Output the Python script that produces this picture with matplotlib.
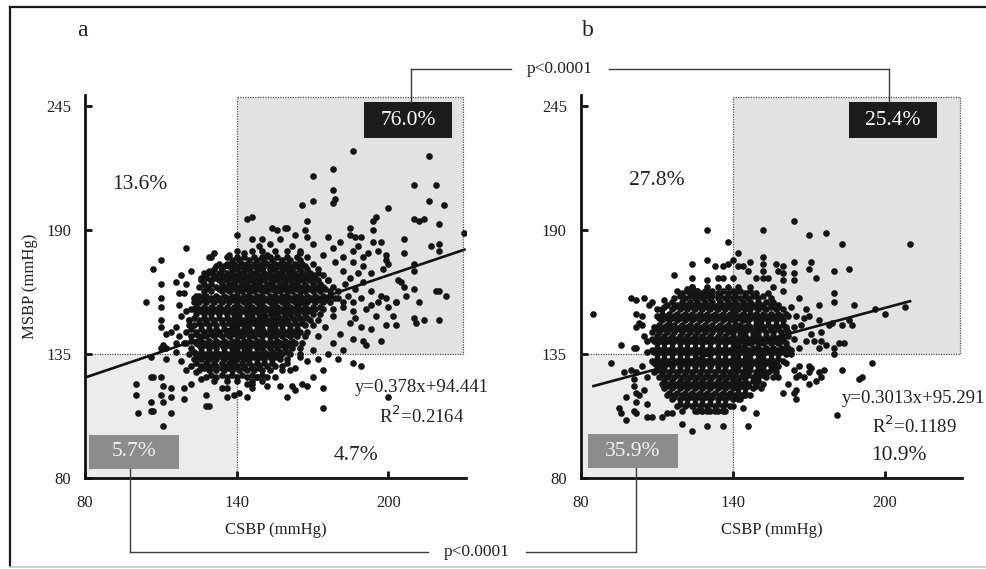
import numpy as np
import matplotlib.pyplot as plt
from matplotlib.patches import Rectangle
from matplotlib.lines import Line2D

plt.rcParams['font.family'] = ['Liberation Serif', 'DejaVu Serif']

# ---- data (CSBP on x, MSBP on y) ----
# dense middle of each cloud, one row per MSBP value: (MSBP, [CSBP, ...])
a_core_rows = [
    (181, [140, 146, 150, 155, 160, 165]),
    (178, [136, 140, 143, 147, 150, 153, 156, 160, 164, 168]),
    (177, [138, 141, 145, 148, 151, 154, 158, 161, 165]),
    (175, [133, 136, 139, 142, 144, 147, 150, 152, 155, 157, 160, 163, 166, 170]),
    (174, [135, 137, 141, 143, 146, 149, 151, 154, 156, 159, 161, 164, 167]),
    (173, [131, 134, 138, 140, 143, 145, 148, 150, 153, 155, 158, 160, 162, 165, 168, 172]),
    (171, [130, 133, 136, 138, 141, 143, 146, 148, 151, 153, 156, 158, 161, 163, 166, 169, 172]),
    (170, [128, 131, 134, 137, 140, 142, 145, 147, 150, 152, 155, 157, 160, 162, 165, 167, 170, 174]),
    (169, [128, 132, 135, 138, 140, 143, 145, 148, 150, 153, 155, 158, 160, 163, 165, 168, 171]),
    (168, [126, 130, 133, 136, 139, 141, 144, 146, 149, 151, 154, 156, 159, 161, 164, 166, 169, 172, 176]),
    (166, [127, 130, 134, 137, 139, 142, 144, 147, 149, 152, 154, 157, 159, 162, 164, 167, 170, 173]),
    (165, [125, 128, 132, 135, 138, 140, 143, 145, 148, 150, 153, 155, 158, 160, 163, 165, 168, 171, 174, 178]),
    (164, [129, 133, 136, 138, 141, 144, 146, 149, 151, 154, 156, 159, 161, 164, 166, 169, 172, 175]),
    (163, [127, 130, 134, 137, 140, 142, 145, 147, 150, 152, 155, 157, 160, 162, 165, 167, 170, 173, 177, 180]),
    (161, [125, 128, 132, 135, 138, 140, 143, 145, 148, 150, 153, 155, 158, 160, 163, 165, 168, 171, 174, 177]),
    (160, [123, 127, 130, 133, 136, 139, 141, 144, 146, 149, 151, 154, 156, 159, 161, 164, 166, 169, 172, 175, 179]),
    (159, [127, 130, 133, 136, 139, 142, 144, 147, 149, 152, 154, 157, 159, 162, 164, 167, 170, 173, 176]),
    (158, [125, 128, 131, 134, 137, 140, 143, 145, 148, 150, 153, 155, 158, 160, 163, 165, 168, 171, 174, 177, 182]),
    (156, [124, 127, 130, 133, 136, 139, 141, 144, 146, 149, 151, 154, 156, 159, 161, 164, 167, 170, 173]),
    (155, [122, 125, 128, 131, 134, 137, 140, 142, 145, 147, 150, 152, 155, 157, 160, 162, 165, 168, 171, 174, 178]),
    (154, [126, 129, 132, 135, 138, 140, 143, 145, 148, 150, 153, 155, 158, 160, 163, 166, 169]),
    (153, [124, 127, 130, 133, 136, 139, 141, 144, 146, 149, 151, 154, 156, 159, 161, 164, 167, 170, 173]),
    (151, [123, 127, 130, 133, 136, 139, 141, 144, 146, 149, 151, 154, 157, 159, 162, 165, 168]),
    (150, [121, 125, 128, 131, 134, 137, 140, 142, 145, 147, 150, 152, 155, 158, 160, 163, 166, 169, 172]),
    (149, [125, 128, 131, 134, 137, 139, 142, 144, 147, 149, 152, 154, 157, 160, 163, 166]),
    (148, [123, 126, 129, 132, 135, 138, 140, 143, 145, 148, 150, 153, 155, 158, 161, 164, 167, 170]),
    (146, [122, 126, 129, 132, 135, 138, 140, 143, 145, 148, 150, 153, 155, 158, 161, 164]),
    (145, [120, 124, 127, 130, 133, 136, 139, 141, 144, 146, 149, 151, 154, 156, 159, 162, 165, 168]),
    (144, [124, 127, 130, 133, 136, 138, 141, 143, 146, 149, 152, 154, 157, 160, 163]),
    (143, [122, 125, 128, 131, 134, 137, 140, 142, 145, 147, 150, 153, 155, 158, 161, 164, 167]),
    (141, [122, 126, 129, 132, 135, 138, 140, 143, 145, 148, 150, 153, 156, 159, 162]),
    (140, [120, 124, 127, 130, 133, 136, 139, 141, 144, 146, 149, 151, 154, 157, 160, 163, 166]),
    (139, [125, 128, 131, 134, 137, 139, 142, 144, 147, 149, 152, 155, 158, 161]),
    (138, [122, 126, 129, 132, 135, 138, 140, 143, 145, 148, 150, 153, 156, 159, 162, 165]),
    (136, [123, 126, 129, 132, 135, 138, 140, 143, 145, 148, 151, 154, 157, 160]),
    (135, [121, 124, 127, 130, 133, 136, 139, 141, 144, 146, 149, 152, 155, 158, 161, 165]),
    (134, [125, 128, 131, 134, 137, 139, 142, 144, 147, 150, 153, 156]),
    (133, [123, 126, 129, 132, 135, 138, 140, 143, 145, 148, 151, 154, 157, 160]),
    (131, [124, 128, 131, 134, 137, 139, 142, 145, 148, 151, 154]),
    (130, [122, 126, 129, 132, 135, 138, 140, 143, 146, 149, 152, 155, 158]),
    (129, [127, 130, 134, 137, 140, 143, 146, 149]),
    (128, [125, 129, 132, 135, 138, 141, 144, 147, 150, 153]),
    (126, [130, 134, 138, 142, 146, 150]),
    (125, [128, 132, 136, 140, 144, 148, 152]),
    (123, [131, 136, 140, 146, 150]),
]

# scattered points around the middle: (CSBP, MSBP)
a_outer = [
    (186, 225), (216, 223), (178, 217), (170, 214), (210, 210), (219, 210), (178, 208),
    (179, 204), (178, 202), (170, 203), (166, 201), (216, 203), (222, 201), (200, 200),
    (210, 195), (212, 194), (214, 195), (220, 193), (195, 196), (194, 194), (194, 190),
    (168, 194), (167, 190), (168, 187), (185, 191), (185, 188), (187, 187), (189, 187),
    (230, 189), (206, 186), (206, 180), (197, 185), (194, 185), (196, 181), (199, 179),
    (199, 177), (200, 175), (217, 183), (220, 184), (220, 181), (210, 175), (210, 172),
    (193, 171), (198, 173), (204, 168), (205, 167), (206, 165), (210, 164), (220, 163),
    (223, 161), (197, 161), (199, 160), (203, 158), (207, 161), (212, 158), (186, 158),
    (193, 157), (144, 195), (146, 196), (140, 188), (154, 191), (156, 190), (159, 191),
    (146, 186), (150, 186), (153, 184), (160, 191),
    (143, 180), (149, 183), (152, 179), (157, 186), (162, 183), (165, 180), (170, 184),
    (174, 179), (178, 182), (182, 178), (186, 181), (190, 178), (163, 188), (176, 187),
    (181, 185), (188, 183), (192, 180),
    (182, 172), (185, 169), (188, 171), (183, 166), (187, 164), (190, 167), (184, 161),
    (189, 160), (193, 163), (182, 156), (186, 154), (191, 155), (195, 152), (185, 149),
    (189, 147), (193, 146), (181, 144), (186, 142), (178, 140), (182, 137), (176, 135),
    (180, 133), (186, 176), (190, 174), (179, 176), (176, 168), (180, 160), (178, 152),
    (175, 147), (172, 143), (170, 137),
    (190, 141), (191, 139), (197, 141), (210, 151), (211, 149), (214, 150), (220, 150),
    (199, 148), (203, 148), (202, 152), (203, 158), (200, 156), (219, 163), (187, 151),
    (196, 158),
    (120, 182), (110, 177), (107, 173), (110, 166), (116, 167), (104, 158), (110, 160),
    (117, 162), (110, 156), (117, 157), (110, 150), (110, 147), (112, 144), (114, 145),
    (116, 147), (111, 139), (110, 138), (112, 138), (112, 133), (116, 140), (106, 134),
    (120, 154), (121, 150), (121, 148), (123, 155), (123, 158), (130, 178), (131, 180),
    (132, 174), (134, 173), (137, 179), (138, 175), (126, 169), (127, 171), (129, 172),
    (130, 168), (124, 161), (127, 161), (129, 178), (118, 170), (120, 166), (122, 172),
    (119, 162), (118, 152), (117, 143), (119, 140), (118, 132), (120, 128), (124, 127),
    (126, 124), (116, 136),
    (100, 122), (100, 117), (101, 109), (106, 114), (106, 110), (107, 110), (106, 125),
    (107, 125), (110, 125), (111, 121), (114, 120), (110, 117), (111, 114), (114, 116),
    (114, 109), (111, 103), (119, 120), (119, 115), (122, 122), (128, 117), (128, 112),
    (129, 112), (134, 120), (136, 120), (136, 116), (139, 117), (141, 118), (144, 116),
    (144, 122), (146, 120), (146, 122),
    (157, 121), (162, 121), (163, 119), (160, 116), (166, 122), (168, 121), (174, 120),
    (174, 111), (200, 116), (161, 128), (163, 129), (170, 125), (174, 128), (186, 131),
    (189, 130), (168, 132), (155, 125), (158, 128), (152, 121), (148, 125), (165, 134),
    (172, 133), (160, 131),
]

b_core_rows = [
    (165, [124, 130, 134, 138, 142, 147]),
    (163, [122, 126, 129, 132, 136, 140, 143, 147]),
    (162, [120, 124, 127, 131, 134, 138, 141, 145, 149, 154]),
    (161, [119, 123, 126, 129, 132, 135, 138, 141, 145, 148, 152]),
    (160, [117, 121, 125, 128, 131, 134, 137, 140, 143, 146, 150, 155]),
    (158, [116, 120, 123, 126, 129, 132, 135, 138, 141, 144, 147, 150, 153, 156]),
    (157, [114, 118, 122, 125, 128, 131, 134, 137, 140, 142, 145, 148, 151, 155, 158]),
    (156, [113, 117, 120, 124, 127, 130, 133, 136, 139, 141, 144, 146, 149, 152, 155, 158]),
    (155, [112, 116, 119, 122, 125, 128, 131, 134, 137, 140, 142, 145, 147, 150, 153, 157, 160]),
    (153, [112, 115, 118, 121, 124, 127, 130, 133, 136, 139, 141, 144, 147, 149, 152, 155, 158, 161]),
    (152, [110, 114, 117, 120, 123, 126, 129, 132, 135, 138, 140, 143, 145, 148, 150, 153, 156, 159, 162]),
    (151, [111, 113, 116, 119, 122, 125, 128, 131, 134, 137, 140, 143, 145, 147, 150, 152, 155, 158]),
    (150, [112, 115, 118, 121, 124, 127, 130, 133, 136, 139, 141, 144, 146, 149, 151, 154, 157, 160]),
    (148, [111, 114, 117, 120, 123, 126, 129, 132, 135, 138, 141, 143, 146, 149, 151, 154, 157, 160]),
    (147, [109, 113, 116, 119, 122, 125, 128, 131, 134, 137, 140, 142, 145, 147, 150, 152, 155, 158, 161, 164]),
    (146, [110, 112, 115, 118, 121, 124, 127, 130, 133, 136, 139, 141, 144, 146, 149, 152, 155, 158, 161]),
    (145, [111, 114, 117, 120, 123, 126, 129, 132, 135, 138, 140, 143, 145, 148, 150, 153, 156, 159, 162]),
    (143, [110, 113, 116, 119, 122, 125, 128, 131, 134, 137, 140, 143, 145, 148, 150, 153, 156, 159, 162]),
    (142, [108, 112, 115, 118, 121, 124, 127, 130, 133, 136, 139, 141, 144, 146, 149, 151, 154, 157, 160, 164]),
    (141, [109, 111, 114, 117, 120, 123, 126, 129, 132, 135, 138, 141, 143, 146, 148, 151, 153, 156, 159]),
    (140, [110, 113, 116, 119, 122, 125, 128, 131, 134, 137, 140, 142, 145, 147, 150, 152, 155, 158, 161]),
    (138, [110, 113, 116, 119, 122, 125, 128, 131, 134, 137, 140, 142, 145, 148, 150, 153, 156, 159, 162]),
    (137, [108, 112, 115, 118, 121, 124, 127, 130, 133, 136, 139, 141, 144, 146, 149, 151, 154, 157, 160, 163]),
    (136, [109, 111, 114, 117, 120, 123, 126, 129, 132, 135, 138, 141, 143, 146, 148, 151, 153, 156, 159]),
    (135, [110, 113, 116, 119, 122, 125, 128, 131, 134, 137, 140, 142, 145, 147, 150, 152, 155, 158, 161]),
    (133, [110, 113, 116, 119, 122, 125, 128, 131, 134, 137, 140, 142, 145, 147, 150, 152, 155, 158]),
    (132, [108, 112, 115, 118, 121, 124, 127, 130, 133, 136, 139, 141, 144, 146, 149, 151, 154, 157, 160]),
    (131, [109, 111, 114, 117, 120, 123, 126, 129, 132, 135, 138, 141, 143, 146, 148, 151, 153, 156]),
    (130, [110, 113, 116, 119, 122, 125, 128, 131, 134, 137, 140, 142, 145, 147, 150, 152, 155, 158]),
    (128, [110, 113, 116, 119, 122, 125, 128, 131, 134, 137, 140, 142, 145, 147, 150, 152, 155]),
    (127, [109, 112, 115, 118, 121, 124, 127, 130, 133, 136, 139, 141, 144, 146, 149, 151, 154, 157]),
    (126, [112, 115, 118, 121, 124, 127, 130, 133, 136, 139, 141, 144, 146, 149, 152]),
    (125, [111, 114, 117, 120, 123, 126, 129, 132, 135, 138, 140, 143, 145, 148, 150, 153, 156]),
    (123, [113, 116, 119, 122, 125, 128, 131, 134, 137, 140, 142, 145, 148, 150]),
    (122, [112, 115, 118, 121, 124, 127, 130, 133, 136, 139, 141, 144, 146, 149, 152]),
    (121, [114, 117, 120, 123, 126, 129, 132, 135, 138, 141, 143, 146, 149]),
    (120, [113, 116, 119, 122, 125, 128, 131, 134, 137, 140, 142, 145, 148, 151]),
    (118, [115, 118, 121, 124, 127, 130, 133, 136, 139, 142, 145]),
    (117, [114, 117, 120, 123, 126, 129, 132, 135, 138, 141, 144, 147]),
    (116, [117, 120, 123, 126, 129, 132, 135, 138, 141]),
    (115, [116, 119, 122, 125, 128, 131, 134, 137, 140, 143]),
    (113, [119, 122, 125, 128, 131, 134, 137]),
    (112, [118, 121, 124, 127, 130, 133, 136, 139]),
    (110, [120, 125, 128, 130, 133, 136]),
]

b_outer = [
    (130, 190), (138, 185), (152, 190), (164, 194), (170, 188), (177, 189), (183, 184),
    (210, 184), (130, 177), (124, 175), (117, 170), (124, 169), (130, 168), (134, 169),
    (136, 169), (133, 174), (136, 174), (138, 175), (140, 177), (142, 180), (142, 174),
    (144, 174), (147, 176), (146, 172), (152, 178), (152, 175), (152, 172), (152, 169),
    (157, 175), (160, 174), (160, 171), (160, 168), (158, 172), (164, 176), (164, 171),
    (164, 168), (171, 176), (170, 173), (173, 169), (180, 172), (186, 173), (154, 169),
    (149, 169), (118, 163), (122, 164), (124, 165), (126, 163), (140, 169),
    (180, 162), (180, 158), (188, 157), (174, 157), (169, 155), (170, 152), (168, 151),
    (174, 150), (178, 148), (183, 148), (186, 150), (187, 148), (196, 155), (200, 153),
    (208, 156), (179, 149), (175, 145), (171, 144), (169, 141), (174, 138), (177, 139),
    (180, 138), (182, 140), (184, 140), (180, 135), (183, 128), (195, 131), (191, 125),
    (190, 124), (176, 128), (175, 125), (171, 129), (170, 127), (165, 125), (164, 118),
    (160, 118), (181, 108), (157, 141), (161, 138), (163, 135), (166, 138), (172, 141),
    (175, 141), (157, 131), (157, 129), (161, 131), (166, 130), (164, 128), (166, 126),
    (168, 125), (170, 130), (174, 127), (173, 123), (170, 122), (158, 125), (162, 122),
    (165, 119), (165, 115), (167, 148), (165, 152), (163, 156), (166, 160), (160, 163),
    (156, 165),
    (85, 153), (100, 160), (102, 159), (105, 160), (107, 157), (102, 153), (104, 152),
    (103, 149), (104, 148), (102, 147), (105, 143), (106, 141), (92, 131), (97, 127),
    (100, 128), (96, 139), (101, 138), (102, 138), (98, 116), (102, 118), (102, 114),
    (101, 121), (101, 124), (103, 117), (106, 113), (105, 119), (102, 127), (108, 145),
    (110, 155), (108, 158), (113, 159), (115, 148), (106, 136), (104, 130), (106, 125),
    (95, 111), (96, 109), (98, 106), (101, 110), (102, 109), (106, 107), (108, 107),
    (112, 107), (114, 109), (116, 109), (120, 104), (124, 101), (130, 103), (136, 103),
    (146, 103), (149, 109), (144, 111), (110, 97), (126, 110), (128, 110), (131, 110),
    (134, 110), (137, 110), (140, 112), (142, 115), (145, 117),
]

a_fit = (0.378, 94.441)
b_fit = (0.3013, 95.291)
a_fit_span = (80, 230.6)
b_fit_span = (84.5, 210.5)
a_eq = ['y=0.378x+94.441', 'R$^2$=0.2164']
b_eq = ['y=0.3013x+95.291', 'R$^2$=0.1189']

# quadrant shares: upper-left, upper-right, lower-left, lower-right
a_pct = ['13.6%', '76.0%', '5.7%', '4.7%']
b_pct = ['27.8%', '25.4%', '35.9%', '10.9%']

cut_csbp, cut_msbp = 140, 135
xticks = [80, 140, 200]
yticks = [80, 135, 190, 245]
p_text = 'p<0.0001'


def unpack(rows, extra):
    xs = [x for y, row in rows for x in row] + [p[0] for p in extra]
    ys = [y for y, row in rows for _ in row] + [p[1] for p in extra]
    return np.array(xs), np.array(ys)


W, H = 986, 569
fig = plt.figure(figsize=(W / 100, H / 100), dpi=100)
ax_a = fig.add_axes([85 / W, 1 - 478.3 / H, 380.7 / W, 383.3 / H])
ax_b = fig.add_axes([580.7 / W, 1 - 478.3 / H, 381.6 / W, 383.3 / H])

dot = '#141414'
txt = '#222222'


def draw_panel(ax, xs, ys, fit, span, pct, eq, lay):
    ax.set_xlim(80, 230.6)
    ax.set_ylim(80, 250)
    ax.add_patch(Rectangle((cut_csbp, cut_msbp), 229.5 - cut_csbp, 249.3 - cut_msbp,
                           fc='#e1e2e4', ec='#555555', lw=0.9, ls=(0, (1, 1)), zorder=0))
    ax.add_patch(Rectangle((80, 80), cut_csbp - 80, cut_msbp - 80,
                           fc='#ececec', ec='#555555', lw=0.9, ls=(0, (1, 1)), zorder=0))
    ax.scatter(xs, ys, s=23, c=dot, linewidths=0, zorder=3)
    fx = np.array(span)
    ax.plot(fx, fit[0] * fx + fit[1], color='#111111', lw=1.9, zorder=4, solid_capstyle='butt')

    # upper-left share
    ax.text(*lay['ul'], pct[0], fontsize=15.5, color=txt, ha='center', va='center')
    # upper-right share in black box
    cx, cy = lay['ur']
    ax.add_patch(Rectangle((cx - 17.4, cy - 8), 34.8, 16, fc='#1c1c1c', ec='none', zorder=5))
    ax.text(cx, cy, pct[1], fontsize=15.5, color='white', ha='center', va='center', zorder=6)
    # lower-left share in grey box
    cx, cy = lay['ll']
    ax.add_patch(Rectangle((cx - 17.8, cy - 7.6), 35.6, 15.2, fc='#8c8c8c', ec='none', zorder=5))
    ax.text(cx, cy, pct[2], fontsize=15.5, color='#f2f2f2', ha='center', va='center', zorder=6)
    # lower-right share
    ax.text(*lay['lr'], pct[3], fontsize=15.5, color=txt, ha='center', va='center')

    ax.text(*lay['eq'], eq[0], fontsize=13.5, color=txt, ha='center', va='center',
            clip_on=False, zorder=6)
    ax.text(*lay['r2'], eq[1], fontsize=13.5, color=txt, ha='center', va='center',
            clip_on=False, zorder=6)

    for side in ['top', 'right']:
        ax.spines[side].set_visible(False)
    for side in ['left', 'bottom']:
        ax.spines[side].set_linewidth(2.0)
        ax.spines[side].set_color('#111111')
    ax.set_xticks(xticks)
    ax.set_yticks(yticks)
    ax.tick_params(direction='in', length=5, width=2, colors='#111111', labelsize=12,
                   labelcolor=txt)
    ax.tick_params(axis='x', pad=12)
    ax.tick_params(axis='y', pad=10)
    ax.set_xlabel('CSBP (mmHg)', fontsize=12, color=txt, labelpad=8)


lay_a = {'ul': (101.8, 210.1), 'ur': (207.8, 238.9), 'll': (99.4, 91.7), 'lr': (187.2, 90.0),
         'eq': (213.3, 120.1), 'r2': (213.3, 107.6)}
lay_b = {'ul': (110.1, 212.3), 'ur': (203.1, 238.9), 'll': (100.6, 92.1), 'lr': (205.6, 89.9),
         'eq': (211.2, 115.4), 'r2': (211.6, 103.2)}

xa, ya = unpack(a_core_rows, a_outer)
xb, yb = unpack(b_core_rows, b_outer)
draw_panel(ax_a, xa, ya, a_fit, a_fit_span, a_pct, a_eq, lay_a)
draw_panel(ax_b, xb, yb, b_fit, b_fit_span, b_pct, b_eq, lay_b)
ax_a.set_ylabel('MSBP (mmHg)', fontsize=12, color=txt, labelpad=6)

fig.text(82 / W, 1 - 31 / H, 'a', fontsize=17, color=txt, ha='center', va='center')
fig.text(588 / W, 1 - 31 / H, 'b', fontsize=17, color=txt, ha='center', va='center')


# connector brackets between the highlighted boxes
def to_fig(ax, x, y):
    return fig.transFigure.inverted().transform(ax.transData.transform((x, y)))


def seg(x0, y0, x1, y1, **kw):
    fig.add_artist(Line2D([x0, x1], [y0, y1], transform=fig.transFigure, **kw))


link = dict(color='#3a3a3a', lw=1.0)
top_y = 1 - 69 / H
bot_y = 1 - 551.7 / H
gap = 49 / W

xa_top, ya_top = to_fig(ax_a, 209.0, lay_a['ur'][1] + 8)
xb_top, yb_top = to_fig(ax_b, 201.7, lay_b['ur'][1] + 8)
p_top_x = 560 / W
seg(xa_top, ya_top, xa_top, top_y, **link)
seg(xa_top, top_y, p_top_x - gap, top_y, **link)
seg(p_top_x + gap, top_y, xb_top, top_y, **link)
seg(xb_top, top_y, xb_top, yb_top, **link)
fig.text(p_top_x, top_y, p_text, fontsize=12.5, color=txt, ha='center', va='center')

xa_bot, ya_bot = to_fig(ax_a, 97.8, lay_a['ll'][1] - 7.6)
xb_bot, yb_bot = to_fig(ax_b, 101.8, lay_b['ll'][1] - 7.6)
p_bot_x = 477 / W
seg(xa_bot, ya_bot, xa_bot, bot_y, **link)
seg(xa_bot, bot_y, p_bot_x - gap, bot_y, **link)
seg(p_bot_x + gap, bot_y, xb_bot, bot_y, **link)
seg(xb_bot, bot_y, xb_bot, yb_bot, **link)
fig.text(p_bot_x, bot_y, p_text, fontsize=12.5, color=txt, ha='center', va='center')

# outer frame of the figure
seg(10 / W, 1 - 7 / H, 1.0, 1 - 7 / H, color='#1a1a1a', lw=1.6)
seg(10 / W, 1 - 7 / H, 10 / W, 1 - 566 / H, color='#1a1a1a', lw=1.6)
seg(10 / W, 1 - 567 / H, 1.0, 1 - 567 / H, color='#c8c8c8', lw=1.2)

fig.savefig('out.png', dpi=100)
